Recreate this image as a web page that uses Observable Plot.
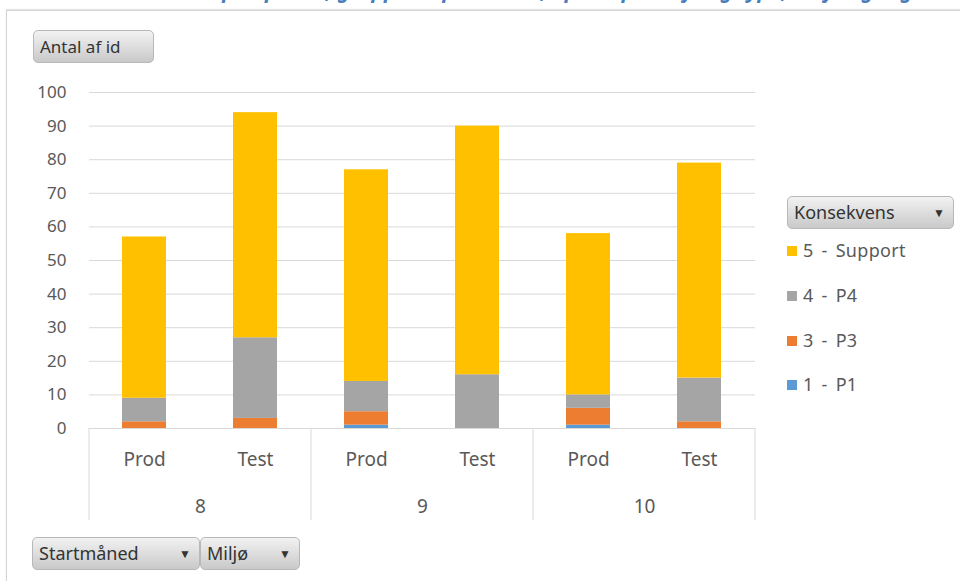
<!DOCTYPE html>
<html><head><meta charset="utf-8">
<script src="https://cdn.jsdelivr.net/npm/d3@7"></script>
<script src="https://cdn.jsdelivr.net/npm/@observablehq/plot@0.6"></script>
<style>
body{margin:0;background:#fff;font-family:"Noto Sans",sans-serif;}
#wrap{position:relative;width:960px;height:581px;overflow:hidden;background:#fff;}
#title{position:absolute;left:0;top:-24px;width:980px;text-align:center;font:bold italic 21px "Noto Sans",sans-serif;color:#4a7ebb;white-space:nowrap;}
#frame{position:absolute;left:6px;top:10px;width:980px;height:600px;border:1px solid #d4d4d4;box-shadow:0 -1px 1px #e4e4e4;}
#chart{position:absolute;left:0;top:0;}
.btn{position:absolute;box-sizing:border-box;height:33px;border:1px solid #b8b8b8;border-radius:5px;background:linear-gradient(#f2f2f2,#c9c9c9);color:#333;font-size:17px;line-height:31px;padding-left:6px;white-space:nowrap;}
.btn .arr{position:absolute;right:8px;top:0;font-size:12px;}
.leg{position:absolute;left:787px;font-size:18px;color:#595959;white-space:nowrap;line-height:22px;word-spacing:3px;letter-spacing:0.3px;}
.leg span.sw{display:inline-block;width:10px;height:10px;margin-right:6px;vertical-align:1px;}
</style></head>
<body>
<div id="wrap">
  <div id="title">Antal incidents pr. opstart, grupperet på måned, opdelt på miljø og type, miljø og tag</div>
  <div id="frame"></div>
  <div id="chart"></div>
  <div class="btn" style="left:33px;top:30px;width:121px;">Antal af id</div>
  <div class="btn" style="left:787px;top:196px;width:167px;font-size:18px;">Konsekvens<span class="arr">▼</span></div>
  <div class="btn" style="left:32px;top:537px;width:168px;font-size:18px;">Startmåned<span class="arr">▼</span></div>
  <div class="btn" style="left:200px;top:537px;width:100px;font-size:18px;">Miljø<span class="arr">▼</span></div>
  <div id="legend"></div>
</div>
<script>
// categories
const months = ["8", "8", "9", "9", "10", "10"];
const envs = ["Prod", "Test", "Prod", "Test", "Prod", "Test"];
// series (bottom to top in stack)
const sevNames = ["1 - P1", "3 - P3", "4 - P4", "5 - Support"];
const sevColors = ["#5b9bd5", "#ed7d31", "#a5a5a5", "#ffc000"];
const p1 = [0, 0, 1, 0, 1, 0];
const p3 = [2, 3, 4, 0, 5, 2];
const p4 = [7, 24, 9, 16, 4, 13];
const support = [48, 67, 63, 74, 48, 64];
// tick labels
const yTicks = [0, 10, 20, 30, 40, 50, 60, 70, 80, 90, 100];
const legendOrder = ["5 - Support", "4 - P4", "3 - P3", "1 - P1"];

const series = [p1, p3, p4, support];
const data = [];
months.forEach((m, i) => {
  series.forEach((s, k) => data.push({month: m, env: envs[i], sev: sevNames[k], value: s[i]}));
});
const monthDomain = Array.from(new Set(months));
const envDomain = Array.from(new Set(envs));

const plot = Plot.plot({
  width: 960, height: 581,
  marginLeft: 88, marginRight: 205, marginTop: 92, marginBottom: 153,
  style: {fontFamily: "Noto Sans", fontSize: "19px", color: "#595959", background: "transparent", overflow: "visible"},
  x: {domain: envDomain, paddingInner: 0.6, paddingOuter: 0.3, label: null},
  fx: {domain: monthDomain, padding: 0, label: null},
  y: {domain: [0, 100], label: null},
  color: {domain: sevNames, range: sevColors},
  marks: [
    Plot.gridY(yTicks, {stroke: "#d9d9d9", strokeOpacity: 1}),
    Plot.axisY(yTicks, {tickSize: 0, tickPadding: 23, label: null, fontSize: 17}),
    Plot.barY(data, {fx: "month", x: "env", y: "value", fill: "sev"}),
    Plot.ruleY([0], {stroke: "#d9d9d9"}),
    Plot.axisX({tickSize: 0, tickPadding: 24, label: null}),
    Plot.axisFx({anchor: "bottom", tickSize: 0, tickPadding: 71, label: null})
  ]
});
document.getElementById("chart").appendChild(plot);

// group separators from the fx scale
const fx = plot.scale("fx"), y = plot.scale("y");
const y0 = y.apply(0);
const bounds = monthDomain.map(m => fx.apply(m));
bounds.push(fx.apply(monthDomain[monthDomain.length - 1]) + fx.bandwidth);
d3.select(plot).append("g").selectAll("line").data(bounds).join("line")
  .attr("x1", d => d).attr("x2", d => d).attr("y1", y0).attr("y2", y0 + 92)
  .attr("stroke", "#d9d9d9");

// legend
const color = plot.scale("color");
const legend = document.getElementById("legend");
const legY = [239, 284, 329, 373];
legendOrder.forEach((name, i) => {
  const el = document.createElement("div");
  el.className = "leg";
  el.style.top = legY[i] + "px";
  el.innerHTML = `<span class="sw" style="background:${color.apply(name)}"></span>${name}`;
  legend.appendChild(el);
});
</script>
</body></html>
